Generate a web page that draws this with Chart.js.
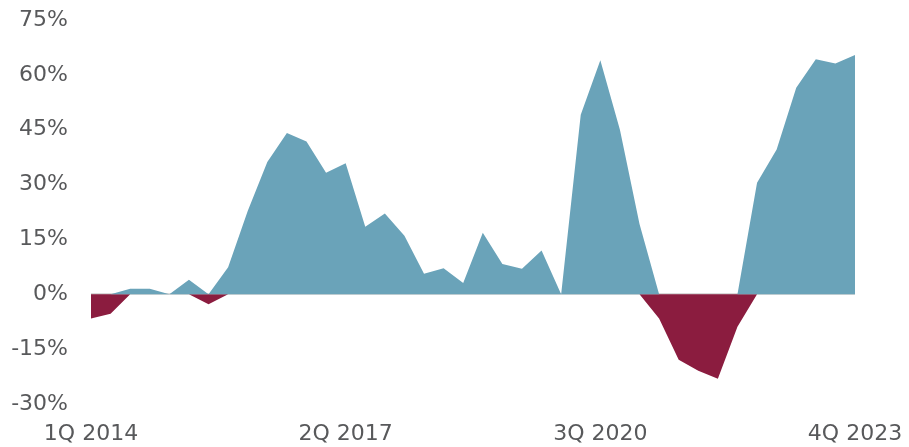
<!DOCTYPE html>
<html>
<head>
<meta charset="utf-8">
<script src="https://cdn.jsdelivr.net/npm/chart.js@4"></script>
<style>
    body { margin: 0; background: #fff; }
</style>
</head>
<body>
<canvas id="chart" width="909" height="447"></canvas>
<script>
// Dados trimestrais
const quarters = [
    '1Q 2014', '2Q 2014', '3Q 2014', '4Q 2014',
    '1Q 2015', '2Q 2015', '3Q 2015', '4Q 2015',
    '1Q 2016', '2Q 2016', '3Q 2016', '4Q 2016',
    '1Q 2017', '2Q 2017', '3Q 2017', '4Q 2017',
    '1Q 2018', '2Q 2018', '3Q 2018', '4Q 2018',
    '1Q 2019', '2Q 2019', '3Q 2019', '4Q 2019',
    '1Q 2020', '2Q 2020', '3Q 2020', '4Q 2020',
    '1Q 2021', '2Q 2021', '3Q 2021', '4Q 2021',
    '1Q 2022', '2Q 2022', '3Q 2022', '4Q 2022',
    '1Q 2023', '2Q 2023', '3Q 2023', '4Q 2023'
];
const positiveValues = [0, 0, 1.5, 1.5, 0, 4, 0, 7.4, 22.8, 36.2, 44.1, 41.8, 33.2, 35.8, 18.5, 22.1, 16, 5.6, 7.1, 3.1,
    16.8, 8.3, 7, 12, 0, 49.1, 64, 45, 19.2, 0, 0, 0, 0, 0, 30.5, 39.6, 56.5, 64.3, 63.1, 65.4];
const negativeValues = [-6.6, -5.3, 0, 0, 0, 0, -2.7, 0, 0, 0, 0, 0, 0, 0, 0, 0, 0, 0, 0, 0,
    0, 0, 0, 0, 0, 0, 0, 0, 0, -6.6, -17.9, -20.9, -23.1, -8.9, 0, 0, 0, 0, 0, 0];
const shownLabels = ['1Q 2014', '2Q 2017', '3Q 2020', '4Q 2023'];

const fontFamily = '"DejaVu Sans", sans-serif';
const ctx = document.getElementById('chart').getContext('2d');

new Chart(ctx, {
    type: 'line',
    data: {
        labels: quarters,
        datasets: [
            {
                data: positiveValues,
                backgroundColor: '#6aa3b9',
                borderColor: 'rgba(0,0,0,0)',
                borderWidth: 0,
                pointRadius: 0,
                fill: 'origin'
            },
            {
                data: negativeValues,
                backgroundColor: '#8b1c3f',
                borderColor: 'rgba(0,0,0,0)',
                borderWidth: 0,
                pointRadius: 0,
                fill: 'origin'
            }
        ]
    },
    options: {
        responsive: false,
        animation: false,
        layout: { padding: { top: 20, right: 54, left: 0, bottom: 0 } },
        plugins: {
            legend: { display: false },
            tooltip: { enabled: false }
        },
        scales: {
            x: {
                offset: false,
                grid: { display: false, drawTicks: false },
                border: { display: false },
                ticks: {
                    autoSkip: false,
                    maxRotation: 0,
                    padding: 17,
                    color: '#58595b',
                    font: { family: fontFamily, size: 22 },
                    callback: function (value) {
                        const label = this.getLabelForValue(value);
                        return shownLabels.includes(label) ? label : '';
                    }
                },
                afterFit: (scale) => {
                    scale.height = 43;
                    scale.paddingLeft = 0;
                    scale.paddingRight = 0;
                }
            },
            y: {
                z: 1,
                min: -30,
                max: 75,
                grid: {
                    drawTicks: false,
                    lineWidth: 2,
                    color: (c) => c.tick && c.tick.value === 0 ? '#d9d9d9' : 'rgba(0,0,0,0)'
                },
                border: { display: false },
                ticks: {
                    stepSize: 15,
                    padding: 23,
                    color: '#58595b',
                    font: { family: fontFamily, size: 22 },
                    callback: (v) => v + '%'
                },
                afterFit: (scale) => {
                    scale.width = 91;
                    scale.paddingTop = 0;
                    scale.paddingBottom = 0;
                }
            }
        }
    }
});
</script>
</body>
</html>
